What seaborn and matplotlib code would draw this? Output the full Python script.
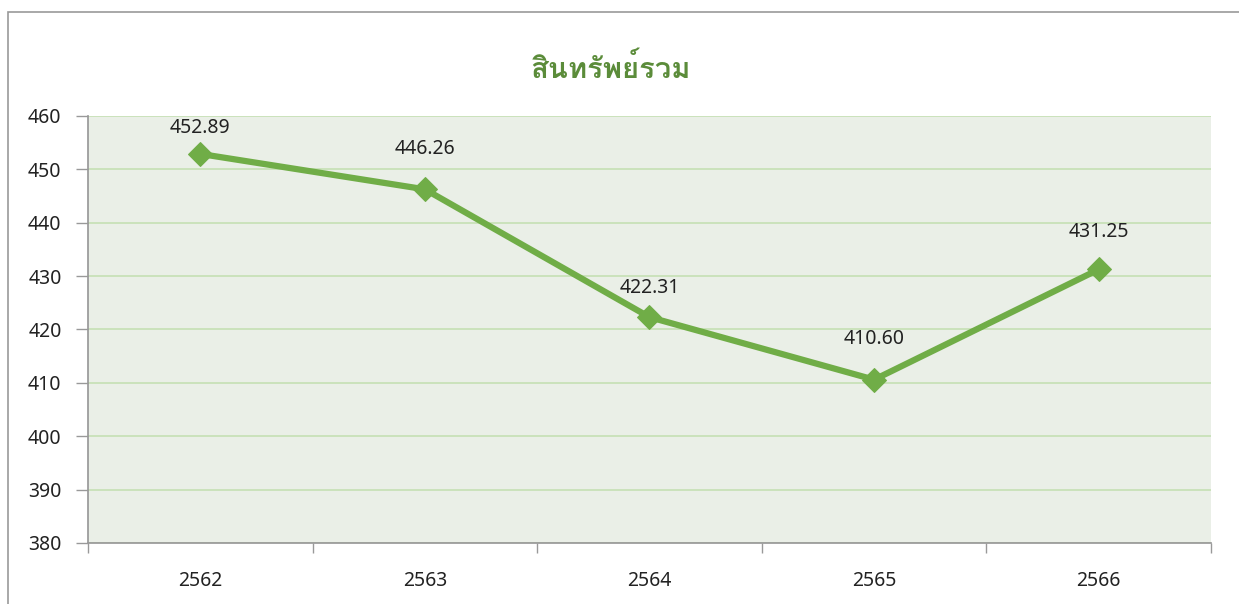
import pandas as pd
import seaborn as sns
import matplotlib.pyplot as plt
from matplotlib.patches import Rectangle

#data
years = ["2562", "2563", "2564", "2565", "2566"]
assets = [452.89, 446.26, 422.31, 410.60, 431.25]
title = "สินทรัพย์รวม"

#label offsets above each point (points), as placed in the original
label_dy = [19, 29, 21, 29, 27]

df = pd.DataFrame({"year": years, "assets": assets})

sns.set_theme(style="white")
plt.rcParams['font.family'] = ['Noto Sans', 'DejaVu Sans']

fig = plt.figure(figsize=(12.39, 6.04), dpi=100)
ax = fig.add_axes([0.071, 0.101, 0.9064, 0.707])
ax.set_facecolor("#EAEFE7")

sns.lineplot(data=df, x="year", y="assets", ax=ax, color="#70AD47", linewidth=4.5,
             marker="D", markersize=12, markeredgecolor="#70AD47", zorder=3)

for i, v in enumerate(assets):
    ax.annotate(f"{v:.2f}", (i, v), xytext=(0, label_dy[i]), textcoords="offset points",
                ha="center", va="center", fontsize=14, color="#222222")

ax.set_ylim(380, 460)
ax.set_yticks(range(380, 461, 10))
ax.set_xlim(-0.5, 4.5)
ax.set_xticks([i - 0.5 for i in range(6)])
ax.set_xticklabels([])
ax.set_xticks(range(5), minor=True)
ax.set_xticklabels(years, minor=True)
ax.tick_params(axis="x", which="minor", bottom=True, length=0, pad=20, labelsize=14, labelcolor="#222222")
ax.tick_params(axis="x", which="major", bottom=True, length=7, width=1, color="#999999", direction="out")
ax.tick_params(axis="y", left=True, length=9, width=1, color="#999999", labelsize=14,
               labelcolor="#222222", direction="out", pad=10)
ax.grid(axis="y", color="#C5E0B4", linewidth=1.2)
ax.set_axisbelow(True)
for s in ["top", "right"]:
    ax.spines[s].set_visible(False)
for s in ["left", "bottom"]:
    ax.spines[s].set_color("#999999")
ax.set_xlabel("")
ax.set_ylabel("")

fig.text(0.493, 0.887, title, ha="center", va="center", fontsize=21, fontweight="bold",
         color="#5B8C3A", family=["Loma", "Noto Sans Thai Looped", "DejaVu Sans"])

fig.patches.append(Rectangle((8 / 1239, -0.1), 1.2, 1 - 12 / 604 + 0.1, transform=fig.transFigure,
                             fill=False, edgecolor="#999999", linewidth=1.2))

plt.savefig("out.png", dpi=100)
